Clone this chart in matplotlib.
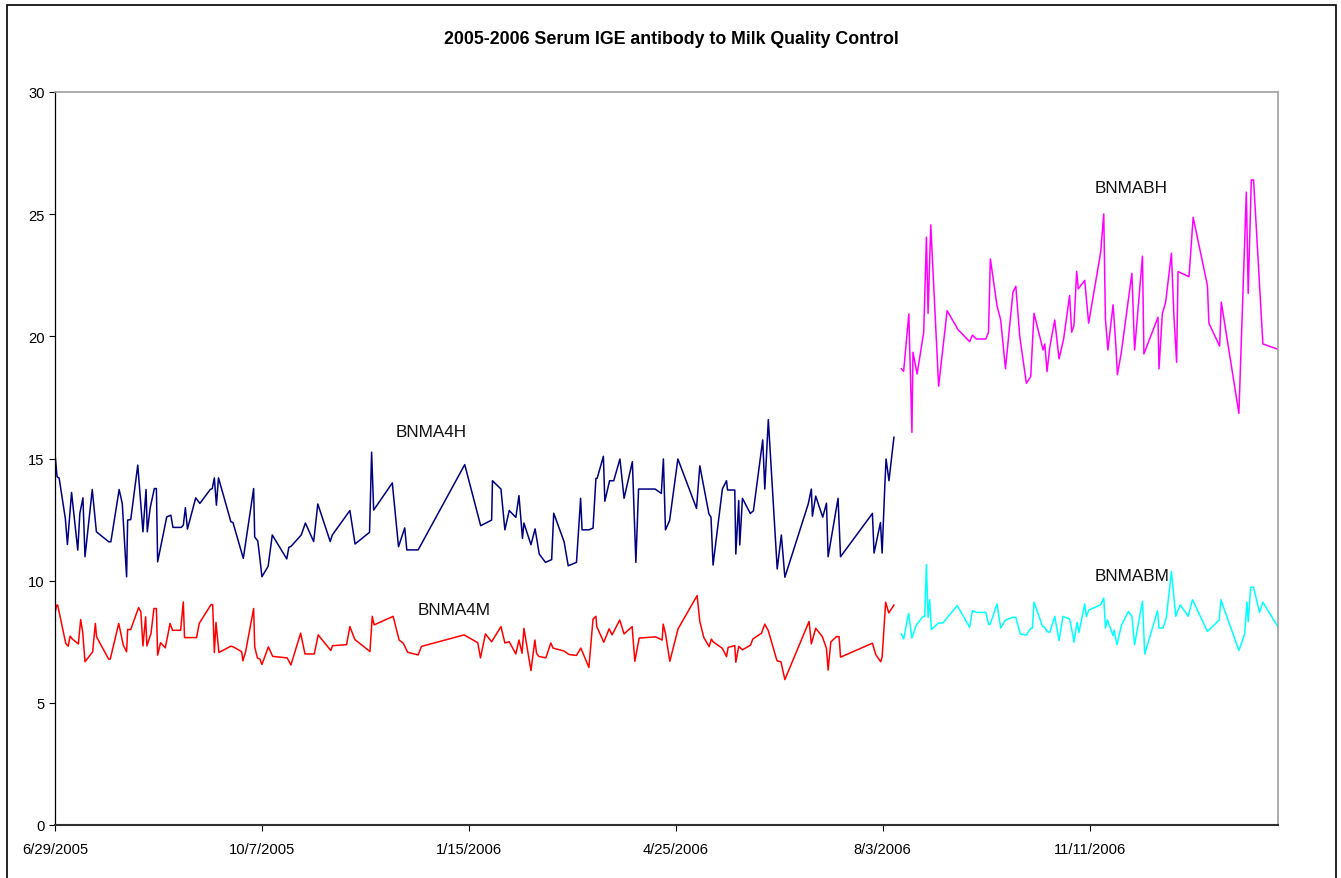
import numpy as np
import pandas as pd
import matplotlib
matplotlib.use("Agg")
import matplotlib.pyplot as plt
from matplotlib.patches import Rectangle

plt.rcParams["font.family"] = ["Liberation Sans", "DejaVu Sans"]

START = pd.Timestamp("2005-06-29")
END = pd.Timestamp("2007-02-10")

TITLE = "2005-2006 Serum IGE antibody to Milk Quality Control"
X_TICK_LABELS = ["6/29/2005", "10/7/2005", "1/15/2006", "4/25/2006", "8/3/2006", "11/11/2006"]
Y_TICKS = [0, 5, 10, 15, 20, 25, 30]

# days after 6/29/2005, value
bnma4h_days = [0, 1, 2, 5, 6, 8, 11, 12, 13.5, 14.5, 18, 20, 26, 27, 31, 32.5, 34.6, 35.1, 36.6, 40,
               42.5, 44, 44.6, 46, 48, 49, 49.6, 54, 56, 57, 61, 62, 63, 64, 68, 70, 75, 76, 77, 78,
               79, 85, 86, 91, 96, 96.5, 98, 99, 100, 103, 105, 112, 113, 114, 119, 121, 125, 127, 133, 134,
               142.5, 145, 152, 153, 154, 163, 166, 169, 170, 175.5, 198, 205.7, 211, 211.4, 215.5, 217.4, 219.5, 222.7, 224.2, 225.9,
               226.6, 230, 232, 234, 237, 240, 241, 246, 248, 252, 254, 254.7, 258, 260, 261.4, 262, 265, 265.7, 268, 270,
               273, 275, 279, 280.7, 282, 290, 293, 294, 295, 297, 301, 310, 311.6, 316, 317, 318, 322.5, 324.5, 325, 328.5,
               329, 330.4, 330.9, 332.2, 336, 337.5, 342, 343, 344.7, 349, 351, 352.7, 364, 365.5, 366, 367.6, 371, 372.8, 373.6, 378.4,
               379.6, 395, 395.8, 398.9, 399.7, 401, 401.6, 403, 405.4]
bnma4h_vals = [15.2, 14.25, 14.2, 12.54, 11.48, 13.61, 11.25, 12.75, 13.39, 10.98, 13.73, 12.0, 11.59, 11.59, 13.73, 13.16, 10.16, 12.48, 12.5, 14.73,
               12.0, 13.73, 12.0, 12.98, 13.77, 13.77, 10.77, 12.61, 12.68, 12.18, 12.18, 12.27, 12.99, 12.11, 13.39, 13.16, 13.73, 13.77, 14.21, 13.09,
               14.21, 12.41, 12.38, 10.91, 13.77, 11.79, 11.62, 10.91, 10.16, 10.59, 11.87, 10.89, 11.37, 11.4, 11.87, 12.36, 11.6, 13.14, 11.6, 11.87,
               12.87, 11.5, 11.98, 15.26, 12.89, 14.0, 11.39, 12.16, 11.26, 11.26, 14.75, 12.25, 12.48, 14.09, 13.75, 12.08, 12.87, 12.59, 13.48, 11.73,
               12.36, 11.47, 12.12, 11.09, 10.75, 10.86, 12.76, 11.6, 10.61, 10.75, 13.37, 12.08, 12.08, 12.15, 14.19, 14.19, 15.09, 13.25, 14.09, 14.09,
               14.98, 13.37, 14.87, 10.75, 13.75, 13.75, 13.57, 14.98, 12.08, 12.46, 14.98, 12.96, 14.7, 12.73, 12.6, 10.64, 13.75, 14.09, 13.71, 13.71,
               11.09, 13.28, 11.46, 13.37, 12.75, 12.86, 15.76, 13.75, 16.59, 10.48, 11.87, 10.14, 13.14, 13.75, 12.64, 13.46, 12.6, 13.17, 10.98, 13.37,
               10.98, 12.75, 11.13, 12.38, 11.13, 13.89, 14.98, 14.09, 15.87]

bnma4m_days = [0, 0.8, 1.3, 5.2, 6.4, 7.3, 8.4, 11.3, 12.4, 13.4, 14.5, 18.2, 19.5, 20.1, 25.9, 26.7, 30.8, 33, 34.6, 35.1,
               36.6, 40.4, 41.5, 42.5, 43.8, 44.4, 46.4, 47.8, 49, 49.6, 51, 53.3, 55.6, 56.8, 60.7, 62, 62.6, 68.4, 69.7, 75.4,
               76.2, 77, 77.8, 79.2, 85, 86.2, 90.2, 90.8, 92.1, 96, 96.5, 97.8, 99, 100, 103.1, 105.2, 112.2, 114, 118.7, 120.8,
               125.3, 127.2, 133.3, 134.1, 140.9, 142.5, 144.9, 152.2, 153.3, 154.2, 163.4, 166.3, 168.3, 170.4, 175.5, 177.1, 197.7, 204.3, 205.6, 208,
               211, 215.5, 217.4, 219.5, 222.7, 224.2, 225.7, 226.6, 230, 231.9, 232.7, 233.8, 237.2, 239.6, 240.7, 246, 248.3, 252, 254.1, 258,
               260, 261.4, 261.8, 265.2, 267.8, 269.2, 272.9, 275, 278.9, 280.2, 282.3, 290.2, 293.4, 293.9, 295, 297.1, 301.1, 310.3, 311.6, 313.5,
               316.1, 317.2, 318, 322.5, 324.5, 325.3, 328.5, 329, 330.4, 332.2, 336.1, 337.2, 341.4, 343, 344.7, 348.9, 350.8, 352.7, 364.4, 365.5,
               367.6, 370.8, 372.8, 373.6, 374.9, 377.6, 378.9, 379.6, 395, 396.6, 399, 399.7, 401.4, 402.9, 405.4]
bnma4m_vals = [8.66, 9.0, 9.0, 7.43, 7.32, 7.73, 7.61, 7.41, 8.41, 7.88, 6.68, 7.09, 8.25, 7.7, 6.79, 6.79, 8.25, 7.36, 7.09, 8.0,
               8.0, 8.9, 8.72, 7.33, 8.52, 7.33, 7.84, 8.86, 8.86, 6.95, 7.46, 7.25, 8.25, 7.97, 7.97, 9.13, 7.67, 7.67, 8.25, 9.02,
               9.02, 7.06, 8.29, 7.06, 7.32, 7.29, 7.09, 6.72, 7.09, 8.86, 7.29, 6.84, 6.79, 6.57, 7.29, 6.9, 6.84, 6.55, 7.85, 7.0,
               7.0, 7.78, 7.14, 7.34, 7.38, 8.12, 7.59, 7.1, 8.54, 8.19, 8.54, 7.57, 7.44, 7.07, 6.96, 7.31, 7.78, 7.46, 6.84, 7.82,
               7.5, 8.12, 7.45, 7.5, 7.0, 7.57, 7.03, 8.05, 6.32, 7.57, 7.03, 6.9, 6.84, 7.45, 7.24, 7.12, 6.98, 6.94, 7.24, 6.45,
               8.43, 8.54, 8.12, 7.48, 8.03, 7.78, 8.39, 7.82, 8.12, 6.7, 7.65, 7.7, 7.57, 8.22, 7.84, 6.7, 8.03, 9.39, 8.33, 7.68,
               7.3, 7.61, 7.5, 7.23, 6.89, 7.27, 7.34, 6.66, 7.31, 7.17, 7.36, 7.61, 7.85, 8.22, 7.95, 6.72, 6.68, 5.95, 8.33, 7.41,
               8.05, 7.71, 7.23, 6.34, 7.49, 7.71, 7.71, 6.87, 7.44, 6.98, 6.68, 6.87, 9.12, 8.68, 9.0]

bnmabh_days = [409, 410.1, 412.6, 414.1, 414.6, 416.6, 419.8, 421.1, 421.9, 423.2, 427, 431.1, 436.4, 442, 443.3, 445.3, 449.8, 451.1, 452, 455.2,
               457, 459.3, 462.9, 464.3, 466.2, 469.4, 471.5, 473.1, 477.5, 478.3, 479.4, 480.7, 483.1, 485.2, 487.4, 490.3, 491.3, 492.4, 493.7, 494.5,
               497.6, 499.5, 505.3, 506.8, 507.6, 508.8, 511.3, 512.6, 513.4, 515.3, 520.4, 521.7, 525.5, 526.2, 533, 533.5, 535.1, 536.7, 539.5, 540.7,
               542, 542.7, 548, 550, 556.9, 557.6, 562.8, 563.6, 572.1, 575.7, 576.6, 578.1, 579.2, 583.7, 591.3]
bnmabh_vals = [18.67, 18.57, 20.92, 16.07, 19.35, 18.46, 20.17, 24.06, 20.94, 24.56, 17.96, 21.05, 20.27, 19.78, 20.05, 19.89, 19.89, 20.17, 23.17, 21.26,
               20.67, 18.67, 21.8, 22.05, 20.0, 18.08, 18.35, 20.94, 19.44, 19.69, 18.56, 19.55, 20.67, 19.08, 19.89, 21.67, 20.17, 20.44, 22.66, 21.94,
               22.29, 20.54, 23.44, 25.01, 20.71, 19.44, 21.29, 19.69, 18.43, 19.35, 22.58, 19.44, 23.28, 19.28, 20.78, 18.67, 20.92, 21.4, 23.4, 20.85,
               18.94, 22.65, 22.44, 24.87, 22.08, 20.54, 19.6, 21.4, 16.85, 25.9, 21.76, 26.4, 26.4, 19.69, 19.46]

bnmabm_days = [409, 410.1, 412.5, 414.1, 416.2, 419.5, 420.3, 421.1, 421.9, 422.7, 423.5, 427, 429.1, 436, 442, 443.3, 445.5, 449.8, 451.2, 452,
               455.2, 457, 459.3, 462.9, 464.3, 466.5, 469.4, 471.5, 472.3, 473.1, 477.2, 478.3, 479.4, 480.7, 483.1, 485.2, 487.1, 490.3, 491.9, 492.4,
               493.9, 494.8, 497.6, 498.4, 499.6, 505.3, 506.8, 507.6, 508.6, 511.3, 511.8, 513.2, 515.3, 518.7, 520.4, 521.7, 525.5, 526.6, 532.8, 533.5,
               535.4, 537, 539.5, 541.6, 543.7, 547.6, 549.7, 556.9, 562.6, 563.4, 572.1, 574.9, 576, 576.6, 577.8, 579.2, 582.1, 583.7, 591.3]
bnmabm_vals = [7.82, 7.61, 8.66, 7.65, 8.18, 8.54, 8.54, 10.66, 8.5, 9.22, 8.0, 8.27, 8.27, 8.98, 8.09, 8.77, 8.7, 8.7, 8.2, 8.23,
               9.05, 8.06, 8.39, 8.5, 8.5, 7.82, 7.77, 8.05, 8.05, 9.12, 8.13, 8.09, 7.92, 7.88, 8.54, 7.55, 8.54, 8.43, 7.75, 7.48,
               8.29, 7.88, 9.05, 8.53, 8.8, 9.01, 9.29, 8.06, 8.39, 7.75, 7.98, 7.38, 8.16, 8.74, 8.54, 7.38, 9.16, 7.0, 8.77, 8.06,
               8.06, 8.47, 10.38, 8.54, 9.01, 8.54, 9.22, 7.92, 8.39, 9.22, 7.14, 7.82, 9.12, 8.32, 9.73, 9.73, 8.7, 9.12, 8.06]

series = [
    ("BNMA4H", bnma4h_days, bnma4h_vals, "#000080", (164.7, 16.1)),
    ("BNMA4M", bnma4m_days, bnma4m_vals, "#FF0000", (175.4, 8.8)),
    ("BNMABH", bnmabh_days, bnmabh_vals, "#FF00FF", (502.4, 26.1)),
    ("BNMABM", bnmabm_days, bnmabm_vals, "#00FFFF", (502.4, 10.2)),
]


def to_dates(days):
    return START + pd.to_timedelta(np.asarray(days, dtype=float), unit="D")


fig = plt.figure(figsize=(13.41, 8.79), dpi=100)
ax = fig.add_axes([55 / 1341, 1 - 826 / 879, (1278 - 55) / 1341, (826 - 93) / 879])

for name, days, vals, color, (lx, ly) in series:
    ax.plot(to_dates(days), vals, color=color, linewidth=1.1)
    ax.text(to_dates([lx])[0], ly, name, color="#111111", fontsize=12.3, ha="left", va="center")

ax.set_xlim(START, END)
ax.set_ylim(0, 30)
ax.set_yticks(Y_TICKS)
ax.set_xticks([pd.Timestamp(s) for s in X_TICK_LABELS])
ax.set_xticklabels(X_TICK_LABELS)
ax.tick_params(axis="both", direction="out", length=4, width=0.8, labelsize=10.6, colors="black")
ax.tick_params(axis="x", pad=8)

ax.spines["left"].set_color("black")
ax.spines["left"].set_linewidth(0.9)
ax.spines["bottom"].set_color("#303030")
ax.spines["bottom"].set_linewidth(1.5)
for side in ("top", "right"):
    ax.spines[side].set_color("#a0a0a0")
    ax.spines[side].set_linewidth(1.2)

fig.text(671 / 1341, 1 - 40 / 879, TITLE, ha="center", va="center", fontsize=12.8, fontweight="bold")

fig.patches.append(Rectangle((7 / 1341, -0.02), (1336 - 7) / 1341, 1.02 - 6 / 879,
                             transform=fig.transFigure, fill=False, edgecolor="black", linewidth=1.2))

fig.savefig("out.png", dpi=100)
